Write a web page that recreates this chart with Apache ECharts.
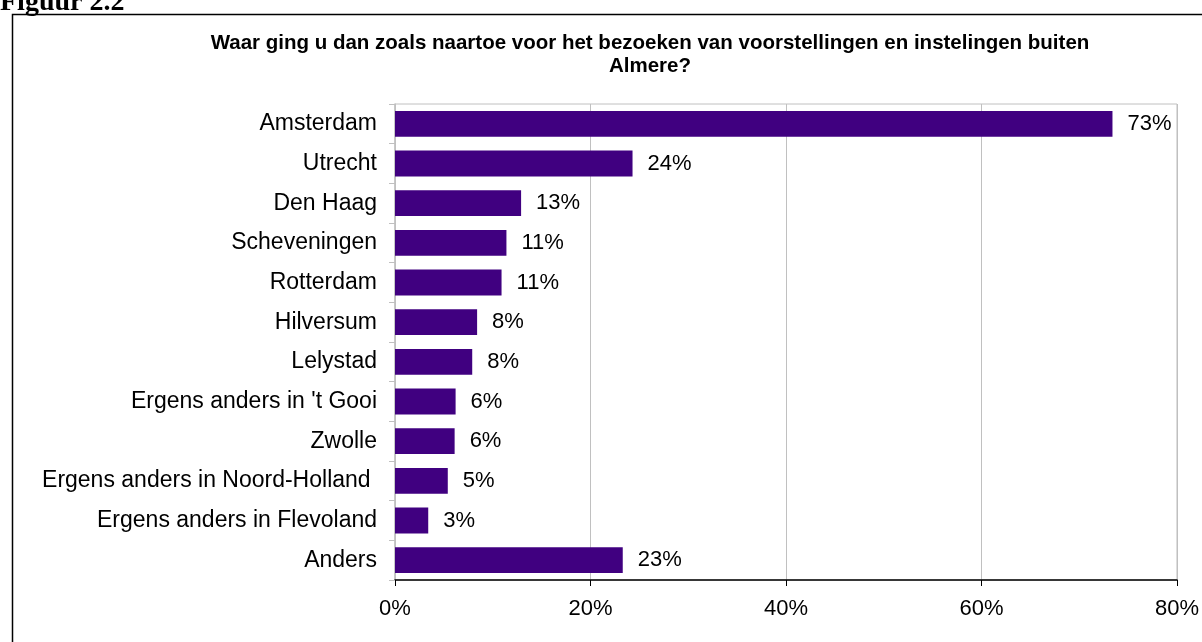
<!DOCTYPE html>
<html>
<head>
<meta charset="utf-8">
<script src="https://cdn.jsdelivr.net/npm/echarts@6/dist/echarts.min.js"></script>
<style>
html, body { margin: 0; padding: 0; background: #fff; }
#chart { width: 1202px; height: 642px; }
</style>
</head>
<body>
<div id="chart"></div>
<script>
// categories, top to bottom
const plaatsen = ['Amsterdam', 'Utrecht', 'Den Haag', 'Scheveningen', 'Rotterdam', 'Hilversum', 'Lelystad',
    "Ergens anders in 't Gooi", 'Zwolle', 'Ergens anders in Noord-Holland ', 'Ergens anders in Flevoland', 'Anders'];
// percentages
const percentages = [73.4, 24.3, 12.9, 11.4, 10.9, 8.4, 7.9, 6.2, 6.1, 5.4, 3.4, 23.3];
const xTicks = [0, 20, 40, 60, 80];

const titel = 'Waar ging u dan zoals naartoe voor het bezoeken van voorstellingen en instelingen buiten\nAlmere?';

const myChart = echarts.init(document.getElementById('chart'));

let option = {
    animation: false,
    backgroundColor: '#fff',
    textStyle: { fontFamily: 'Liberation Sans, Arial, sans-serif' },
    graphic: [
        {
            type: 'rect',
            shape: { x: 12.5, y: 14.5, width: 1300, height: 700 },
            style: { fill: 'none', stroke: '#000', lineWidth: 1.5 },
            silent: true
        },
        {
            type: 'text',
            x: 0, y: 17,
            style: {
                text: 'Figuur 2.2',
                font: 'bold 28px "Liberation Serif", "Times New Roman", serif',
                fill: '#000',
                verticalAlign: 'bottom'
            }
        },
        {
            type: 'text',
            x: 650, y: 32,
            style: {
                text: titel,
                font: 'bold 20.5px "Liberation Sans", Arial, sans-serif',
                lineHeight: 23,
                fill: '#000',
                align: 'center'
            }
        }
    ],
    grid: {
        left: 395,
        right: 25,
        top: 104,
        bottom: 62,
        show: true,
        borderColor: '#c0c0c0',
        borderWidth: 1,
        containLabel: false
    },
    xAxis: {
        type: 'value',
        min: xTicks[0],
        max: xTicks[xTicks.length - 1],
        interval: 20,
        axisLine: { show: true, lineStyle: { color: '#000', width: 1.5 } },
        axisTick: { show: true, length: 6, lineStyle: { color: '#000' } },
        axisLabel: {
            formatter: '{value}%',
            color: '#000',
            fontSize: 22,
            margin: 18
        },
        splitLine: { show: true, lineStyle: { color: '#c0c0c0', width: 1 } }
    },
    yAxis: {
        type: 'category',
        inverse: true,
        data: plaatsen,
        axisLine: { show: true, lineStyle: { color: '#c0c0c0', width: 1.5 } },
        axisTick: { show: true, length: 6, lineStyle: { color: '#c0c0c0' } },
        axisLabel: {
            color: '#000',
            fontSize: 23,
            margin: 18
        }
    },
    series: [
        {
            type: 'bar',
            data: percentages,
            barCategoryGap: '35%',
            itemStyle: { color: '#400080' },
            label: {
                show: true,
                position: 'right',
                distance: 15,
                color: '#000',
                fontSize: 22,
                formatter: function (p) {
                    return Math.round(p.value) + '%';
                }
            }
        }
    ]
};

myChart.setOption(option);

window.addEventListener('resize', () => {
    myChart.resize();
});
</script>
</body>
</html>
